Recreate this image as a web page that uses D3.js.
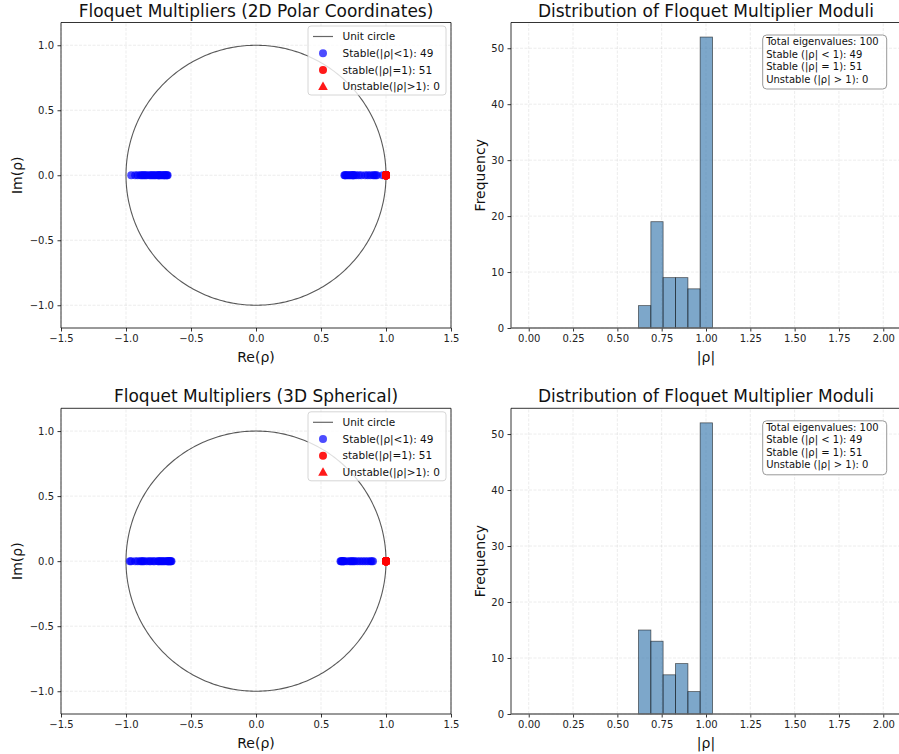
<!DOCTYPE html>
<html>
<head>
<meta charset="utf-8">
<script src="https://cdn.jsdelivr.net/npm/d3@7"></script>
<style>
  body { margin: 0; background: #fff; }
  svg { font-family: "DejaVu Sans", sans-serif; }
</style>
</head>
<body>
<div id="chart"></div>
<script>
// ---- data ----
// real parts of the stable multipliers (imaginary parts are all 0)
const stableRe2D = [
  0.68, 0.685, -0.68, -0.685,
  0.69, 0.70, 0.71, 0.72, 0.73, 0.74, 0.745, 0.75, 0.755,
  -0.69, -0.70, -0.705, -0.71, -0.72, -0.73, -0.74, -0.745, -0.75, -0.755,
  0.77, 0.79, 0.81, -0.77, -0.78, -0.79, -0.80, -0.81, -0.82,
  0.84, 0.86, 0.88, -0.84, -0.85, -0.86, -0.87, -0.88, -0.89,
  0.90, 0.91, 0.92, 0.93, -0.91, -0.93, -0.96,
  0.975
]
const stableRe3D = [
  0.65, 0.655, 0.66, 0.665, 0.67, 0.675, 0.68,
  -0.65, -0.655, -0.66, -0.665, -0.67, -0.675, -0.68, -0.685,
  0.70, 0.72, 0.73, 0.74, 0.75, 0.76,
  -0.70, -0.71, -0.72, -0.73, -0.74, -0.75, -0.755,
  0.78, 0.80, 0.82, -0.78, -0.79, -0.81, -0.82,
  0.84, 0.86, 0.88, 0.89, -0.84, -0.86, -0.87, -0.88, -0.89,
  0.90, -0.91, -0.93, -0.96,
  -0.97
]
const unitRe = 1.0
const unitCount = 51
const unstableCount = 0

const binEdges = [0.619, 0.689, 0.758, 0.828, 0.898, 0.967, 1.037]
const counts2D = [4, 19, 9, 9, 7, 52]
const counts3D = [15, 13, 7, 9, 4, 52]

const reTicks = [-1.5, -1.0, -0.5, 0.0, 0.5, 1.0, 1.5]
const imTicks = [-1.0, -0.5, 0.0, 0.5, 1.0]
const modTicks = [0, 0.25, 0.5, 0.75, 1.0, 1.25, 1.5, 1.75, 2.0]
const freqTicks = [0, 10, 20, 30, 40, 50]

const infoLines = [
  "Total eigenvalues: 100",
  "Stable (|ρ| < 1): 49",
  "Stable (|ρ| = 1): 51",
  "Unstable (|ρ| > 1): 0",
]

// ---- layout ----
const width = 899
const height = 754
const rows = [
  { top: 22.5, bottom: 328 },
  { top: 408.3, bottom: 714 },
]
const cols = [
  { left: 61, right: 451 },
  { left: 511, right: 901 },
]

const svg = d3.select("#chart")
  .append("svg")
  .attr("width", width)
  .attr("height", height)

const drawGrid = (g, xScale, yScale, xTicks, yTicks) => {
  const [x0, x1] = xScale.range()
  const [y0, y1] = yScale.range()
  g.append("g").selectAll("line")
    .data(xTicks)
    .join("line")
      .attr("x1", d => xScale(d)).attr("x2", d => xScale(d))
      .attr("y1", y0).attr("y2", y1)
  g.append("g").selectAll("line")
    .data(yTicks)
    .join("line")
      .attr("x1", x0).attr("x2", x1)
      .attr("y1", d => yScale(d)).attr("y2", d => yScale(d))
  g.selectAll("line")
    .attr("stroke", "#b0b0b0")
    .attr("stroke-opacity", 0.3)
    .attr("stroke-width", 0.8)
    .attr("stroke-dasharray", "3,1.5")
}

const styleAxis = (axis) => {
  axis.select(".domain").remove()
  axis.selectAll(".tick line").attr("stroke", "#000").attr("stroke-width", 0.8)
  axis.selectAll(".tick text")
    .attr("fill", "#222")
    .style("font-size", "10px")
    .style("font-family", "DejaVu Sans")
}

const drawFrame = (g, x0, x1, y0, y1, sides) => {
  const lines = {
    left: [x0, y0, x0, y1],
    right: [x1, y0, x1, y1],
    top: [x0, y0, x1, y0],
    bottom: [x0, y1, x1, y1],
  }
  sides.forEach(s => {
    const [a, b, c, d] = lines[s]
    g.append("line")
      .attr("x1", a).attr("y1", b).attr("x2", c).attr("y2", d)
      .attr("stroke", "#000")
      .attr("stroke-width", 0.8)
  })
}

const drawLabels = (g, x0, x1, y0, y1, title, xLabel, yLabel, yLabelX) => {
  g.append("text")
    .attr("x", (x0 + x1) / 2)
    .attr("y", y0 - 6)
    .attr("text-anchor", "middle")
    .style("font-size", "17px")
    .attr("fill", "#111")
    .text(title)
  g.append("text")
    .attr("x", (x0 + x1) / 2)
    .attr("y", y1 + 34)
    .attr("text-anchor", "middle")
    .style("font-size", "14px")
    .attr("fill", "#111")
    .text(xLabel)
  g.append("text")
    .attr("transform", `translate(${yLabelX}, ${(y0 + y1) / 2}) rotate(-90)`)
    .attr("text-anchor", "middle")
    .attr("dy", "0.35em")
    .style("font-size", "14px")
    .attr("fill", "#111")
    .text(yLabel)
}

// ---- scatter of multipliers in the complex plane ----
const drawScatter = (row, title, stableRe) => {
  const { left: x0, right: x1 } = cols[0]
  const { top: y0, bottom: y1 } = rows[row]
  const g = svg.append("g")

  const xScale = d3.scaleLinear().domain([-1.5, 1.5]).range([x0, x1])
  const yScale = d3.scaleLinear().domain([-1.175, 1.175]).range([y1, y0])

  drawGrid(g, xScale, yScale, reTicks, imTicks)

  // unit circle
  const circle = d3.range(0, 361).map(a => [Math.cos(a * Math.PI / 180), Math.sin(a * Math.PI / 180)])
  g.append("path")
    .datum(circle)
    .attr("fill", "none")
    .attr("stroke", "#000")
    .attr("stroke-opacity", 0.65)
    .attr("stroke-width", 1.1)
    .attr("d", d3.line().x(d => xScale(d[0])).y(d => yScale(d[1])))

  g.append("g").selectAll("circle")
    .data(stableRe)
    .join("circle")
      .attr("cx", d => xScale(d))
      .attr("cy", yScale(0))
      .attr("r", 4)
      .attr("fill", "blue")
      .attr("fill-opacity", 0.7)

  g.append("g").selectAll("circle")
    .data(d3.range(unitCount))
    .join("circle")
      .attr("cx", xScale(unitRe))
      .attr("cy", yScale(0))
      .attr("r", 4)
      .attr("fill", "red")
      .attr("fill-opacity", 0.9)

  const xAxis = g.append("g")
    .attr("transform", `translate(0, ${y1})`)
    .call(d3.axisBottom(xScale).tickValues(reTicks).tickFormat(d3.format(".1f")).tickSize(3.5).tickPadding(3.5))
  styleAxis(xAxis)
  const yAxis = g.append("g")
    .attr("transform", `translate(${x0}, 0)`)
    .call(d3.axisLeft(yScale).tickValues(imTicks).tickFormat(d3.format(".1f")).tickSize(3.5).tickPadding(3.5))
  styleAxis(yAxis)

  drawFrame(g, x0, x1, y0, y1, ["left", "right", "top", "bottom"])
  drawLabels(g, x0, x1, y0, y1, title, "Re(ρ)", "Im(ρ)", 17)

  // legend
  const lx = x1 - 143
  const ly = y0 + 3.5
  const legend = g.append("g").attr("transform", `translate(${lx}, ${ly})`)
  legend.append("rect")
    .attr("width", 138).attr("height", 69).attr("rx", 3)
    .attr("fill", "#fff").attr("fill-opacity", 0.8)
    .attr("stroke", "#ccc").attr("stroke-width", 0.8)
  const items = [
    { type: "line", label: "Unit circle" },
    { type: "dot", color: "blue", alpha: 0.7, label: `Stable(|ρ|<1): ${stableRe.length}` },
    { type: "dot", color: "red", alpha: 0.9, label: `stable(|ρ|=1): ${unitCount}` },
    { type: "tri", color: "red", alpha: 0.9, label: `Unstable(|ρ|>1): ${unstableCount}` },
  ]
  items.forEach((it, i) => {
    const cy = 10.5 + i * 16.7
    if (it.type === "line") {
      legend.append("line")
        .attr("x1", 5).attr("x2", 25).attr("y1", cy).attr("y2", cy)
        .attr("stroke", "#000").attr("stroke-opacity", 0.6).attr("stroke-width", 1.2)
    } else if (it.type === "dot") {
      legend.append("circle")
        .attr("cx", 15).attr("cy", cy).attr("r", 4)
        .attr("fill", it.color).attr("fill-opacity", it.alpha)
    } else {
      legend.append("path")
        .attr("transform", `translate(15, ${cy + 0.5})`)
        .attr("d", d3.symbol(d3.symbolTriangle, 40)())
        .attr("fill", it.color).attr("fill-opacity", it.alpha)
    }
    legend.append("text")
      .attr("x", 34.5).attr("y", cy).attr("dy", "0.35em")
      .style("font-size", "10.5px")
      .attr("fill", "#111")
      .text(it.label)
  })
}

// ---- histogram of moduli ----
const drawHist = (row, counts) => {
  const { left: x0, right: x1 } = cols[1]
  const { top: y0, bottom: y1 } = rows[row]
  const g = svg.append("g")

  const xScale = d3.scaleLinear().domain([-0.1, 2.1]).range([x0, x1])
  const yScale = d3.scaleLinear().domain([0, 54.6]).range([y1, y0])

  drawGrid(g, xScale, yScale, modTicks, freqTicks)

  g.append("g").selectAll("rect")
    .data(counts)
    .join("rect")
      .attr("x", (d, i) => xScale(binEdges[i]))
      .attr("width", (d, i) => xScale(binEdges[i + 1]) - xScale(binEdges[i]))
      .attr("y", d => yScale(d))
      .attr("height", d => yScale(0) - yScale(d))
      .attr("fill", "steelblue")
      .attr("fill-opacity", 0.7)
      .attr("stroke", "#000")
      .attr("stroke-opacity", 0.6)
      .attr("stroke-width", 0.8)

  const xAxis = g.append("g")
    .attr("transform", `translate(0, ${y1})`)
    .call(d3.axisBottom(xScale).tickValues(modTicks).tickFormat(d3.format(".2f")).tickSize(3.5).tickPadding(3.5))
  styleAxis(xAxis)
  const yAxis = g.append("g")
    .attr("transform", `translate(${x0}, 0)`)
    .call(d3.axisLeft(yScale).tickValues(freqTicks).tickFormat(d3.format("d")).tickSize(3.5).tickPadding(3.5))
  styleAxis(yAxis)

  drawFrame(g, x0, x1, y0, y1, ["left", "top"])
  g.append("line")
    .attr("x1", x0).attr("x2", x1).attr("y1", y1).attr("y2", y1)
    .attr("stroke", "#666").attr("stroke-width", 1.5)
  drawLabels(g, x0, x1, y0, y1, "Distribution of Floquet Multiplier Moduli", "|ρ|", "Frequency", 480)

  // info box
  const bx = 762.7
  const by = y0 + 12.5
  const box = g.append("g").attr("transform", `translate(${bx}, ${by})`)
  box.append("rect")
    .attr("width", 124).attr("height", 54).attr("rx", 4)
    .attr("fill", "#fff").attr("fill-opacity", 0.8)
    .attr("stroke", "#999").attr("stroke-width", 1)
  box.selectAll("text")
    .data(infoLines)
    .join("text")
      .attr("x", 3.5)
      .attr("y", (d, i) => 10 + i * 12.5)
      .style("font-size", "10px")
      .attr("fill", "#111")
      .text(d => d)
}

drawScatter(0, "Floquet Multipliers (2D Polar Coordinates)", stableRe2D)
drawHist(0, counts2D)
drawScatter(1, "Floquet Multipliers (3D Spherical)", stableRe3D)
drawHist(1, counts3D)
</script>
</body>
</html>
